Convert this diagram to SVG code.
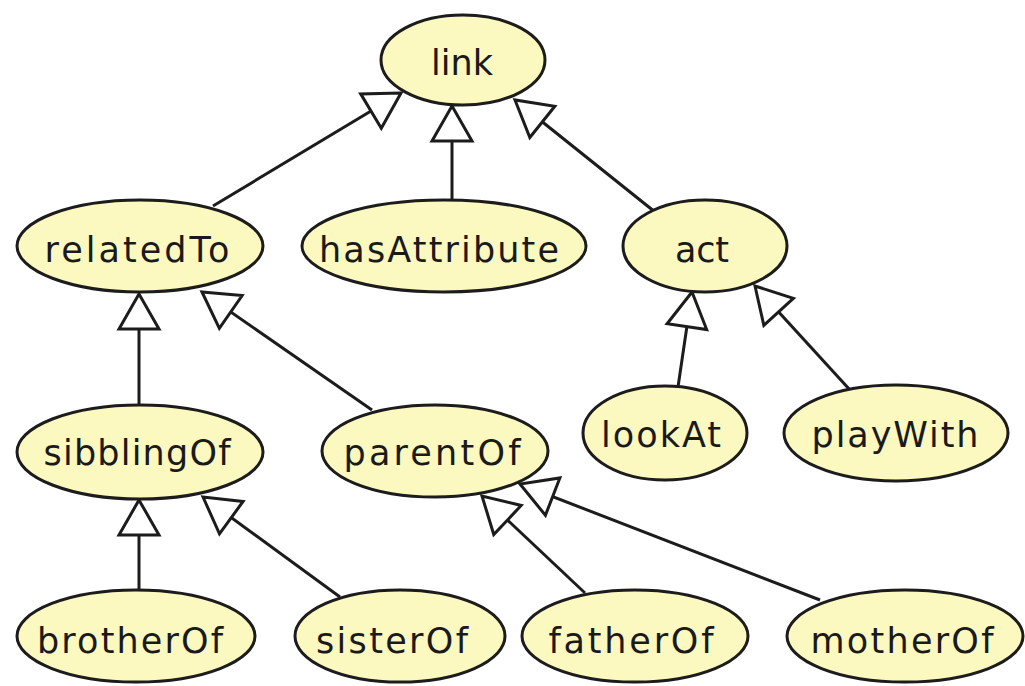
<svg xmlns="http://www.w3.org/2000/svg" width="1025" height="686" viewBox="0 0 1025 686">
  <style>
    .node ellipse { fill: #fbf8c0; stroke: #1c1c1c; stroke-width: 3; }
    .node text { font-family: "DejaVu Sans", "Liberation Sans", sans-serif; font-size: 35px; fill: #1a1a1a; text-anchor: middle; }
    .edge { stroke: #1c1c1c; stroke-width: 3; fill: none; marker-end: url(#gen); }
  </style>
  <defs>
    <!-- hollow triangle for generalisation -->
    <marker id="gen" markerUnits="userSpaceOnUse" viewBox="-40 -25 44 50" markerWidth="44" markerHeight="50" refX="0" refY="0" orient="auto" overflow="visible">
      <path d="M0,0 L-35,-20 L-35,20 Z" fill="#ffffff" stroke="#1c1c1c" stroke-width="3" stroke-linejoin="miter"/>
    </marker>
  </defs>
  <rect width="1025" height="686" fill="#ffffff"/>

  <g id="connectors">
    <line class="edge" x1="213" y1="206" x2="401" y2="93"/>
    <line class="edge" x1="452" y1="200" x2="452" y2="106"/>
    <line class="edge" x1="655" y1="212" x2="515" y2="100"/>
    <line class="edge" x1="139" y1="405" x2="139" y2="294"/>
    <line class="edge" x1="372" y1="410" x2="202" y2="292"/>
    <line class="edge" x1="678" y1="387" x2="692" y2="292"/>
    <line class="edge" x1="850" y1="390" x2="755" y2="286"/>
    <line class="edge" x1="139" y1="590" x2="139" y2="500"/>
    <line class="edge" x1="340" y1="597" x2="203" y2="497"/>
    <line class="edge" x1="585" y1="593" x2="482" y2="496"/>
    <line class="edge" x1="820" y1="600" x2="520" y2="484"/>
  </g>

  <g id="link" class="node">
    <ellipse cx="463" cy="60" rx="82" ry="45"/>
    <text x="462" y="75" textLength="62" lengthAdjust="spacing">link</text>
  </g>
  <g id="relatedTo" class="node">
    <ellipse cx="140" cy="246" rx="123" ry="46"/>
    <text x="137" y="262" textLength="185" lengthAdjust="spacing">relatedTo</text>
  </g>
  <g id="hasAttribute" class="node">
    <ellipse cx="444" cy="246" rx="142" ry="46"/>
    <text x="439" y="262" textLength="240" lengthAdjust="spacing">hasAttribute</text>
  </g>
  <g id="act" class="node">
    <ellipse cx="705" cy="246" rx="82" ry="46"/>
    <text x="702" y="262" textLength="54" lengthAdjust="spacing">act</text>
  </g>
  <g id="sibblingOf" class="node">
    <ellipse cx="140" cy="452" rx="123" ry="47"/>
    <text x="137" y="465" textLength="187" lengthAdjust="spacing">sibblingOf</text>
  </g>
  <g id="parentOf" class="node">
    <ellipse cx="435" cy="451" rx="113" ry="46"/>
    <text x="432" y="465" textLength="177" lengthAdjust="spacing">parentOf</text>
  </g>
  <g id="lookAt" class="node">
    <ellipse cx="665" cy="433" rx="82" ry="47"/>
    <text x="661" y="447" textLength="120" lengthAdjust="spacing">lookAt</text>
  </g>
  <g id="playWith" class="node">
    <ellipse cx="896" cy="433" rx="112" ry="48"/>
    <text x="895" y="447" textLength="167" lengthAdjust="spacing">playWith</text>
  </g>
  <g id="brotherOf" class="node">
    <ellipse cx="136" cy="636" rx="119" ry="46"/>
    <text x="130" y="653" textLength="186" lengthAdjust="spacing">brotherOf</text>
  </g>
  <g id="sisterOf" class="node">
    <ellipse cx="400" cy="636" rx="105" ry="46"/>
    <text x="392" y="653" textLength="152" lengthAdjust="spacing">sisterOf</text>
  </g>
  <g id="fatherOf" class="node">
    <ellipse cx="635" cy="636" rx="113" ry="46"/>
    <text x="631" y="653" textLength="165" lengthAdjust="spacing">fatherOf</text>
  </g>
  <g id="motherOf" class="node">
    <ellipse cx="905" cy="636" rx="118" ry="46"/>
    <text x="902" y="653" textLength="183" lengthAdjust="spacing">motherOf</text>
  </g>
</svg>
